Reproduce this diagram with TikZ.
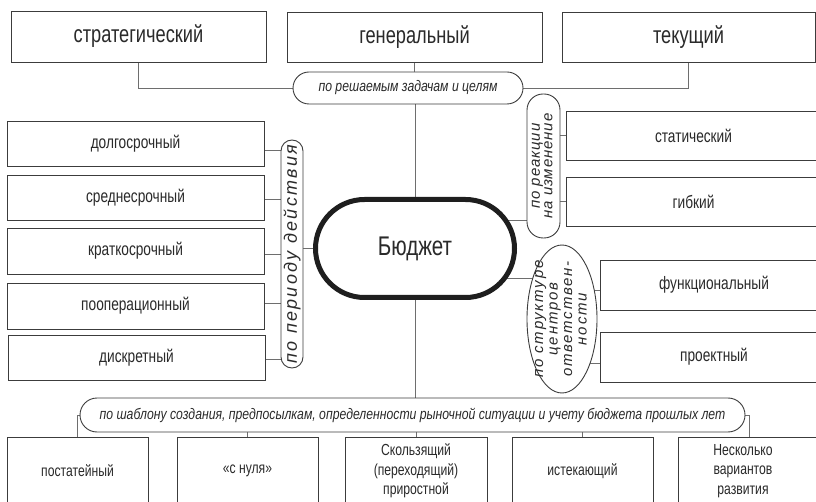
\documentclass[tikz,border=0pt]{standalone}
\usepackage{fontspec}
\usepackage{graphicx}
\setmainfont{Liberation Sans}
\newfontfamily\nrw[FakeStretch=0.76]{Liberation Sans}
\newfontfamily\pil[FakeStretch=0.8]{Liberation Sans}
\newfontfamily\spc[LetterSpace=13]{Liberation Sans}
\usetikzlibrary{backgrounds,shapes.geometric}
\definecolor{boxc}{HTML}{3C3C3C}
\definecolor{linec}{HTML}{6E6E6E}
\definecolor{txt}{HTML}{2A2A2A}
\definecolor{budc}{HTML}{1E1E1E}
\tikzset{
  box/.style={draw=boxc, line width=0.9pt, fill=white, inner sep=0pt, text=txt},
  bigtxt/.style={font=\nrw\fontsize{24}{28}\selectfont},
  midtxt/.style={font=\nrw\fontsize{18}{22}\selectfont},
  smalltxt/.style={font=\nrw\fontsize{16}{19.5}\selectfont, align=center},
  pill/.style={draw=boxc, line width=0.9pt, fill=white, inner sep=0pt, text=txt, font=\pil\itshape\fontsize{15.3}{18}\selectfont},
  conn/.style={draw=linec, line width=0.9pt},
  rlab/.style={text=txt, inner sep=0pt},
}
\begin{document}
\begin{tikzpicture}[x=1pt,y=-1pt]
\useasboundingbox (0,0) rectangle (816,502);
% top row
\node[box,bigtxt,minimum width=255pt,minimum height=51pt] (strat) at (138.5,36.5) {стратегический};
\node[box,bigtxt,minimum width=255pt,minimum height=50pt] (gen) at (414.5,37) {генеральный};
\node[box,bigtxt,minimum width=253pt,minimum height=50pt] (cur) at (688.5,37) {текущий};
\node[pill,rounded corners=16pt,minimum width=230pt,minimum height=32pt] (p1) at (408,88) {по решаемым задачам и целям};
% left column
\node[box,midtxt,minimum width=257pt,minimum height=45pt] (dolg) at (135.5,143.5) {долгосрочный};
\node[box,midtxt,minimum width=257pt,minimum height=45pt] (sred) at (135.5,197.5) {среднесрочный};
\node[box,midtxt,minimum width=257pt,minimum height=46pt] (krat) at (135.5,251) {краткосрочный};
\node[box,midtxt,minimum width=257pt,minimum height=46pt] (poop) at (135.5,306) {пооперационный};
\node[box,midtxt,minimum width=257pt,minimum height=45pt] (diskr) at (136.5,357.5) {дискретный};
\node[pill,rounded corners=11pt,minimum width=22pt,minimum height=228pt,
  label={[rlab]center:\rotatebox{90}{\fontsize{18}{18}\selectfont\spc\itshape по периоду действия}}] (per) at (292,254) {};
% centre
\node[draw=budc, line width=5pt, fill=white, rounded corners=49pt, minimum width=199pt, minimum height=98pt,
  inner sep=0pt, text=txt, font=\nrw\fontsize{27}{30}\selectfont] (bud) at (415,248.5) {Бюджет};
% right column
\node[pill,rounded corners=16pt,minimum width=33pt,minimum height=144pt,
  label={[rlab]center:\rotatebox{90}{\fontsize{15}{12.5}\selectfont\spc\itshape\addfontfeature{LetterSpace=6}\begin{tabular}{@{}c@{}}по реакции\\на изменение\end{tabular}}}] (rea) at (543.5,166) {};
\node[box,midtxt,minimum width=255pt,minimum height=49pt] (stat) at (693.5,135.5) {статический};
\node[box,midtxt,minimum width=255pt,minimum height=49pt] (gib) at (693.5,201.5) {гибкий};
\node[draw=boxc, line width=0.9pt, fill=white, ellipse, minimum width=70pt, minimum height=148pt, inner sep=0pt,
  label={[rlab]center:\rotatebox{90}{\fontsize{15}{14.5}\selectfont\spc\itshape\addfontfeature{LetterSpace=12}\begin{tabular}{@{}c@{}}по структуре\\центров\\ответствен-\\ности\end{tabular}}}] (str) at (562,319) {};
\node[box,midtxt,minimum width=228pt,minimum height=50pt] (func) at (714,285) {функциональный};
\node[box,midtxt,minimum width=228pt,minimum height=50pt] (proe) at (714,357) {проектный};
% bottom
\node[pill,rounded corners=17pt,minimum width=665pt,minimum height=34pt] (bp) at (412.5,415) {по шаблону создания, предпосылкам, определенности рыночной ситуации и учету бюджета прошлых лет};
\node[box,smalltxt,minimum width=141pt,minimum height=68pt] (b1) at (77.5,471) {постатейный};
\node[box,smalltxt,minimum width=141pt,minimum height=68pt] (b2) at (247.5,471) {«с нуля»};
\node[box,smalltxt,minimum width=142pt,minimum height=68pt] (b3) at (416,471) {Скользящий\\(переходящий)\\приростной};
\node[box,smalltxt,minimum width=141pt,minimum height=68pt] (b4) at (582.5,471) {истекающий};
\node[box,minimum width=142pt,minimum height=68pt,
  label={[rlab,xshift=-6pt,align=center,font=\nrw\fontsize{16}{19.5}\selectfont]center:Несколько\\вариантов\\развития}] (b5) at (749,471) {};
% connectors
\begin{scope}[on background layer]
\draw[conn] (strat.south) |- (p1.west);
\draw[conn] (cur.south) |- (p1.east);
\draw[conn] (gen.south) -- (gen.south |- p1.north);
\draw[conn] (bud.north) -- (bud.north |- p1.south);
\draw[conn] (bud.south) -- (bud.south |- bp.north);
\draw[conn] (b3.north) -- (b3.north |- bp.south);
\draw[conn] (b2.north) -- (b2.north |- bp.south);
\draw[conn] (b4.north) -- (b4.north |- bp.south);
\draw[conn] (bp.west) -| (b1.north);
\draw[conn] (bp.east) -| (b5.north);
\foreach \n/\s in {dolg/-6.5, sred/-1.5, krat/-3, poop/3, diskr/-1.5}
  \draw[conn] ([yshift=\s pt]\n.east) -- ([yshift=\s pt]\n.east -| per.west);
\draw[conn] (bud.west) -- (bud.west -| per.east);
\draw[conn] ([yshift=-54pt]rea.west) -- ([yshift=-54pt]rea.west -| bud.center);
\draw[conn] (stat.west) -- (stat.west -| rea.east);
\draw[conn] (gib.west) -- (gib.west -| rea.east);
\draw[conn] ([yshift=-29.5pt]bud.center) -- ([yshift=-29.5pt]bud.center -| str.center);
\draw[conn] ([yshift=-5pt]func.west) -- ([yshift=-5pt]func.west -| str.center);
\draw[conn] ([yshift=-6pt]proe.west) -- ([yshift=-6pt]proe.west -| str.center);
\end{scope}
\end{tikzpicture}
\end{document}
